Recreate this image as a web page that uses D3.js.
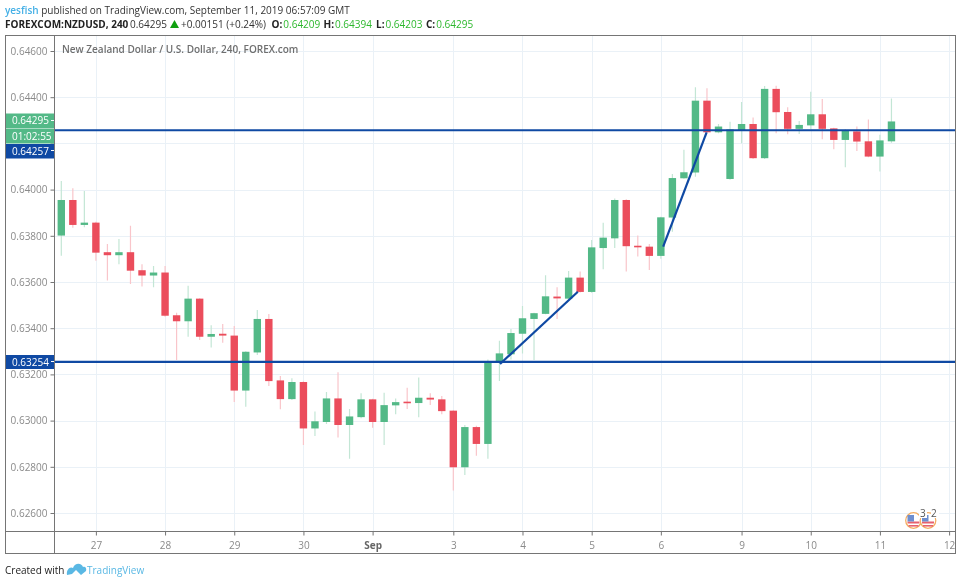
<!DOCTYPE html>
<html><head><meta charset="utf-8">
<script src="https://cdn.jsdelivr.net/npm/d3@7"></script>
<style>html,body{margin:0;padding:0;background:#fff}svg{display:block;filter:blur(0.35px)}text{font-family:"Open Sans",sans-serif}</style>
</head><body><svg id="c" width="960" height="584"></svg>
<script>
const opens=[.63801,.63955,.63847,.63857,.63729,.63716,.63729,.63651,.63628,.63641,.63456,.63430,.63528,.63363,.63376,.63368,.63130,.63295,.63440,.63174,.63093,.63167,.62966,.62994,.63096,.62981,.63015,.63092,.62994,.63066,.63082,.63076,.63099,.63092,.63043,.62798,.62972,.62899,.63254,.63287,.63376,.63440,.63462,.63537,.63528,.63619,.63557,.63747,.63789,.63955,.63757,.63753,.63713,.63879,.64049,.64074,.64385,.64248,.64046,.64255,.64284,.64136,.64436,.64336,.64263,.64278,.64326,.64265,.64215,.64252,.64209,.64143,.64209];
const highs=[.64037,.64006,.63994,.63861,.63765,.63786,.63843,.63677,.63669,.63669,.63467,.63584,.63530,.63413,.63418,.63409,.63300,.63479,.63461,.63193,.63183,.63170,.63039,.63124,.63209,.63050,.63118,.63095,.63121,.63096,.63142,.63187,.63118,.63106,.63045,.62981,.62978,.63265,.63346,.63396,.63496,.63467,.63629,.63577,.63648,.63645,.63782,.63857,.63962,.63958,.63801,.63765,.63882,.64068,.64172,.64443,.64439,.64284,.64294,.64379,.64312,.64449,.64450,.64356,.64297,.64424,.64392,.64268,.64261,.64273,.64304,.64237,.64394];
const lows=[.63714,.63835,.63837,.63692,.63606,.63677,.63591,.63580,.63577,.63450,.63262,.63363,.63349,.63316,.63337,.63080,.63060,.63284,.63150,.63049,.63089,.62894,.62933,.62985,.62927,.62835,.63010,.62969,.62894,.63028,.63050,.63014,.63067,.63028,.62697,.62764,.62848,.62835,.63171,.63265,.63291,.63262,.63460,.63440,.63525,.63555,.63553,.63655,.63747,.63645,.63710,.63652,.63701,.63818,.64047,.64056,.64245,.64244,.64043,.64201,.64133,.64133,.64244,.64240,.64241,.64261,.64218,.64175,.64097,.64167,.64140,.64078,.64203];
const closes=[.63955,.63847,.63857,.63727,.63716,.63729,.63649,.63628,.63641,.63454,.63430,.63528,.63363,.63375,.63368,.63130,.63298,.63440,.63171,.63093,.63167,.62966,.62997,.63096,.62981,.63018,.63092,.62994,.63067,.63080,.63076,.63099,.63091,.63041,.62798,.62972,.62899,.63255,.63291,.63379,.63443,.63465,.63538,.63529,.63619,.63557,.63750,.63792,.63955,.63755,.63752,.63713,.63880,.64050,.64075,.64385,.64248,.64273,.64261,.64284,.64136,.64436,.64335,.64263,.64280,.64326,.64263,.64215,.64254,.64208,.64143,.64213,.64295];
const priceTicks=[.646,.644,.642,.640,.638,.636,.634,.632,.630,.628,.626];
const hiddenPriceLabels=[.642];
const dayIndex=[3,9,15,21,27,34,40,46,52,59,65,71,77];
const dayLabels=["27","28","29","30","Sep","3","4","5","6","9","10","11","12"];
const levels=[.64257,.63254];
const trendA={i:[38.05,44.8],p:[.63245,.63558]};
const trendB={i:[52.2,55.97],p:[.63753,.64248]};

const UP="#53b987",DOWN="#eb4d5c",UPW="#c3e6d5",DOWNW="#f9c5ca",BLUE="#0f49a3",FRAME="#757575",GRID="#eaf1f7";
const svg=d3.select("#c");
const L=54.5,R=955.5,T=35.5,B=531.5,BB=553.5,OL=5.5;
const x=d3.scaleLinear().domain([0,77]).range([61.3,949.1]);
const y=d3.scaleLinear().domain([.626,.646]).range([513,51]);
const cw=7.4;

svg.append("defs").append("clipPath").attr("id","p").append("rect").attr("x",L).attr("y",T).attr("width",R-L).attr("height",B-T);
const plot=svg.append("g").attr("clip-path","url(#p)");

plot.append("g").selectAll("line").data(priceTicks).join("line")
 .attr("x1",L).attr("x2",R).attr("y1",d=>Math.round(y(d))+.5).attr("y2",d=>Math.round(y(d))+.5).attr("stroke",GRID);
plot.append("g").selectAll("line").data(dayIndex).join("line")
 .attr("x1",d=>Math.round(x(d))+.5).attr("x2",d=>Math.round(x(d))+.5).attr("y1",T).attr("y2",B).attr("stroke",GRID);

const idx=d3.range(opens.length);
plot.append("g").selectAll("line").data(idx).join("line")
 .attr("x1",i=>x(i)).attr("x2",i=>x(i)).attr("y1",i=>y(highs[i])).attr("y2",i=>y(lows[i]))
 .attr("stroke",i=>closes[i]>=opens[i]?UPW:DOWNW).attr("stroke-width",1.2);
plot.append("g").selectAll("rect").data(idx).join("rect")
 .attr("x",i=>x(i)-cw/2).attr("width",cw)
 .attr("y",i=>y(Math.max(opens[i],closes[i])))
 .attr("height",i=>Math.max(1.6,Math.abs(y(opens[i])-y(closes[i]))))
 .attr("fill",i=>closes[i]>=opens[i]?UP:DOWN);

plot.append("g").selectAll("line").data(levels).join("line")
 .attr("x1",L).attr("x2",R).attr("y1",d=>y(d)).attr("y2",d=>y(d)).attr("stroke",BLUE).attr("stroke-width",2.2);
[trendA,trendB].forEach(t=>plot.append("line")
 .attr("x1",x(t.i[0])).attr("x2",x(t.i[1])).attr("y1",y(t.p[0])).attr("y2",y(t.p[1]))
 .attr("stroke",BLUE).attr("stroke-width",2.2));

const fmt=d3.format(".5f");
const ya=d3.axisLeft(y).tickValues(priceTicks).tickFormat(d=>hiddenPriceLabels.includes(d)?"":fmt(d)).tickSize(4).tickPadding(3);
const yg=svg.append("g").attr("transform",`translate(${L},0)`).call(ya);
const xa=d3.axisBottom(x).tickValues(dayIndex).tickFormat((d,i)=>dayLabels[i]).tickSize(4).tickPadding(6);
const xg=svg.append("g").attr("transform",`translate(0,${B})`).call(xa);
[yg,xg].forEach(g=>{g.select(".domain").remove();g.selectAll("text").attr("fill","#8a8a8a").attr("font-size",10).style("font-family",'"Open Sans",sans-serif');g.selectAll("line").attr("stroke","#757575");});
xg.selectAll("g.tick").filter(d=>d===27).select("text").attr("font-weight",700).attr("fill","#666");

const fr=svg.append("g").attr("fill","none").attr("stroke",FRAME);
fr.append("rect").attr("x",OL).attr("y",T).attr("width",R-OL).attr("height",BB-T);
fr.append("line").attr("x1",L).attr("x2",L).attr("y1",T).attr("y2",BB);
fr.append("line").attr("x1",OL).attr("x2",R).attr("y1",B).attr("y2",B);

const badge=(y0,h,c,t)=>{svg.append("rect").attr("x",6).attr("y",y0).attr("width",48).attr("height",h).attr("fill",c);
 svg.append("text").attr("x",12).attr("y",y0+h/2+3.5).attr("font-size",10).attr("fill","#fff").text(t);};
badge(113.5,14.5,UP,"0.64295");
badge(128.5,15,UP,"01:02:55");
badge(144,14.5,BLUE,"0.64257");
badge(355,14,BLUE,"0.63254");
[120.5,150.5,361.5].forEach(v=>svg.append("line").attr("x1",51).attr("x2",54).attr("y1",v).attr("y2",v).attr("stroke","#fff"));

svg.append("text").attr("x",62).attr("y",53).attr("font-size",10).attr("font-weight",600).attr("fill","#6f6f6f").text("New Zealand Dollar / U.S. Dollar, 240, FOREX.com");

const h1=svg.append("text").attr("x",5).attr("y",14).attr("font-size",10).attr("fill","#333");
h1.append("tspan").attr("fill","#45b0e6").attr("font-weight",600).text("yesfish");
h1.append("tspan").text(" published on TradingView.com, September 11, 2019 06:57:09 GMT");
const h2=svg.append("text").attr("x",5).attr("y",28).attr("font-size",10).attr("fill","#333");
h2.append("tspan").attr("font-weight",700).attr("fill","#222").text("FOREXCOM:NZDUSD, 240");
h2.append("tspan").attr("x",130).text("0.64295");
svg.append("path").attr("d","M170 28L179 28L174.5 20Z").attr("fill","#10a010");
h2.append("tspan").attr("x",181).text("+0.00151 (+0.24%)");
[["O:","0.64209",271.5],["H:","0.64394",323.5],["L:","0.64203",376],["C:","0.64295",426]].forEach(([k,v,px])=>{
 h2.append("tspan").attr("x",px).attr("font-weight",700).attr("fill","#222").text(k);
 h2.append("tspan").attr("dx",1).attr("fill","#2eb82e").text(v);
});

svg.append("text").attr("x",5).attr("y",574).attr("font-size",10).attr("fill","#222").text("Created with");
svg.append("path").attr("d","M67 575C66 570 70 566 73 568C75 562 82 563 83 567C85 566 87 568 86 571L81 575L76 570L72 574Z").attr("fill","#5ab8e4");
svg.append("text").attr("x",87).attr("y",574).attr("font-size",10).attr("fill","#5ab8e4").text("TradingView");

const ev=svg.append("g");
[[913.5,520.5],[928,520.5]].forEach(([cx,cy])=>{
 ev.append("circle").attr("cx",cx).attr("cy",cy).attr("r",7.8).attr("fill","#fff").attr("stroke","#f5ae62").attr("stroke-width",1.3);
 ev.append("rect").attr("x",cx-6).attr("y",cy+1).attr("width",12).attr("height",2).attr("fill","#e7626e");
 ev.append("rect").attr("x",cx-5).attr("y",cy+4.5).attr("width",10).attr("height",1.6).attr("fill","#e7626e");
 ev.append("rect").attr("x",cx-6).attr("y",cy-5.5).attr("width",6.5).attr("height",6.5).attr("fill","#6f8fcf");
});
ev.append("rect").attr("x",919).attr("y",508).attr("width",8).attr("height",10).attr("fill","#fff");
ev.append("rect").attr("x",931).attr("y",508).attr("width",8).attr("height",10).attr("fill","#fff");
svg.append("text").attr("x",920).attr("y",517).attr("font-size",10).attr("fill","#555").text("3");
svg.append("text").attr("x",931).attr("y",517).attr("font-size",10).attr("fill","#555").text("2");
</script></body></html>
